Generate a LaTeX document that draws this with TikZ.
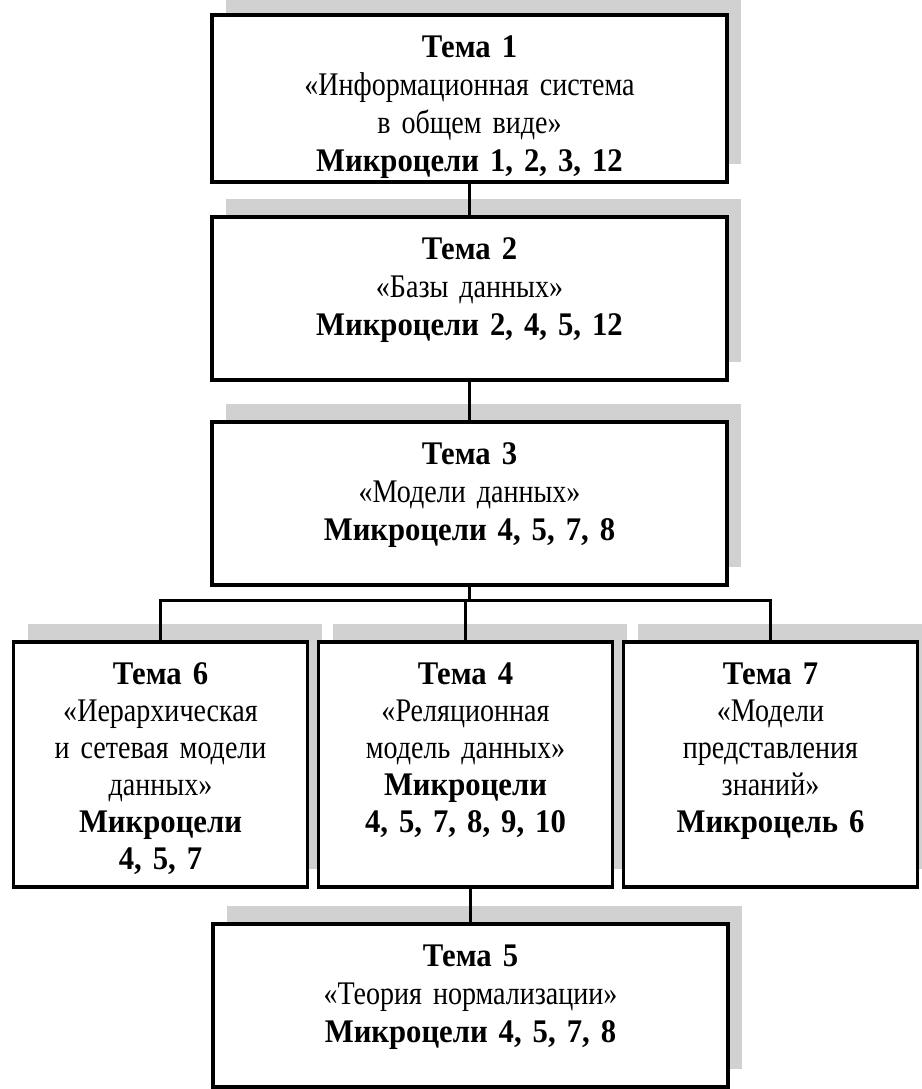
\documentclass[tikz,border=0pt]{standalone}
\usepackage{fontspec}
\setmainfont{Liberation Serif}[FakeStretch=0.85,BoldFeatures={FakeStretch=0.93}]
\usepackage{tikz}
\usetikzlibrary{positioning}
\usetikzlibrary{shadows}
\tikzset{%
  tshadow/.style = {general shadow={fill=black,fill opacity=0.18,
        shadow xshift=7pt,shadow yshift=9pt}},
  tbox/.style = {rectangle,draw,fill=white,line width=1.7pt,
        inner xsep=0pt,inner ysep=0pt,align=center,text width=257.5pt,
        text height=21pt,text depth=60.5pt,tshadow,
        font=\fontsize{16.5pt}{19pt}\selectfont},
  sbox/.style = {tbox,text width=147pt,text depth=101.5pt,xshift=-2pt,
        font=\fontsize{16.5pt}{18.5pt}\selectfont}
}
\begin{document}
\begin{tikzpicture}[level 1/.style={level distance=100pt},
        level 2/.style={level distance=102.5pt},
        level 3/.style={level distance=130.5pt,sibling distance=152.5pt,
          edge from parent path={(\tikzparentnode.south) -- ++(0,-7pt)
          -| (\tikzchildnode.north)}},
        level 4/.style={level distance=120.5pt,
          edge from parent path={(\tikzchildnode.north)
          -- (\tikzchildnode.north |- \tikzparentnode.south)}},
        edge from parent/.style={draw,line width=1.4pt}]
    \useasboundingbox (0,0) rectangle (461pt,-544.5pt);
    \node[tbox,text depth=62.5pt] (t1) at (234.75pt,-49.25pt)
        {\textbf{Тема 1}\\«Информационная система\\в общем виде»\\
         \textbf{Микроцели 1, 2, 3, 12}}
    child{ node[tbox] (t2)
        {\textbf{Тема 2}\\«Базы данных»\\\textbf{Микроцели 2, 4, 5, 12}}
        child{ node[tbox] (t3)
            {\textbf{Тема 3}\\«Модели данных»\\\textbf{Микроцели 4, 5, 7, 8}}
            child{ node[sbox] (t6)
                {\textbf{Тема 6}\\«Иерархическая\\и сетевая модели\\данных»\\
                 \textbf{Микроцели}\\\textbf{4, 5, 7}}
            }
            child{ node[sbox] (t4)
                {\textbf{Тема 4}\\«Реляционная\\модель данных»\\
                 \textbf{Микроцели}\\\textbf{4, 5, 7, 8, 9, 10}}
                child{ node[tbox,xshift=2.5pt] (t5)
                    {\textbf{Тема 5}\\«Теория нормализации»\\
                     \textbf{Микроцели 4, 5, 7, 8}}
                }
            }
            child{ node[sbox] (t7)
                {\textbf{Тема 7}\\«Модели\\представления\\знаний»\\
                 \textbf{Микроцель 6}}
            }
        }
    };
\end{tikzpicture}
\end{document}
